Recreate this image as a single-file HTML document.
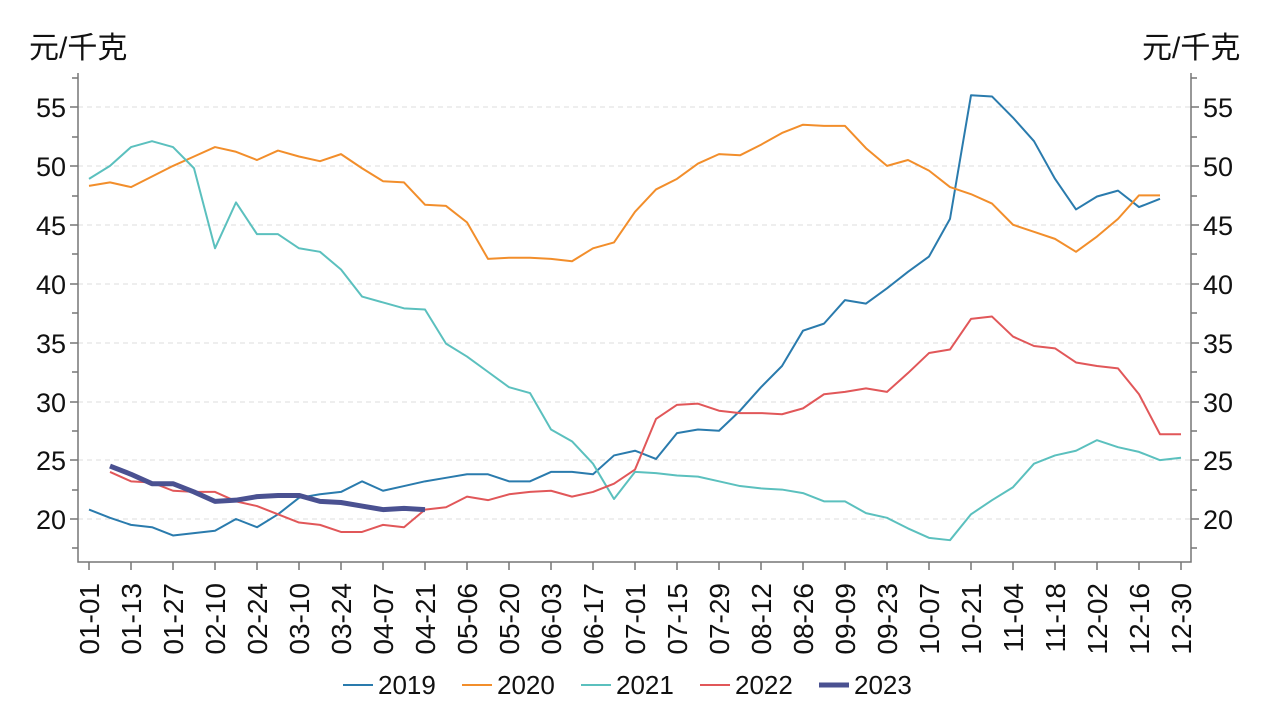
<!DOCTYPE html>
<html><head><meta charset="utf-8"><style>
body{margin:0;background:#fff}
svg{display:block;font-family:"Liberation Sans","Noto Sans CJK SC",sans-serif}
</style></head><body>
<svg width="1269" height="715" viewBox="0 0 1269 715">
<g stroke="#ddd" stroke-dasharray="5,4" stroke-width="1">
<line x1="78" x2="1191" y1="107" y2="107"/><line x1="78" x2="1191" y1="166" y2="166"/><line x1="78" x2="1191" y1="225" y2="225"/><line x1="78" x2="1191" y1="284" y2="284"/><line x1="78" x2="1191" y1="343" y2="343"/><line x1="78" x2="1191" y1="402" y2="402"/><line x1="78" x2="1191" y1="460" y2="460"/><line x1="78" x2="1191" y1="519" y2="519"/>
</g>
<g stroke="#777" stroke-width="1.5" fill="none">
<path d="M78 73V562H1191V73"/>
<path d="M70 107h8M70 166h8M70 225h8M70 284h8M70 343h8M70 402h8M70 460h8M70 519h8M72 78h6M72 137h6M72 196h6M72 254h6M72 313h6M72 372h6M72 431h6M72 490h6M72 548h6"/>
<path d="M1191 107h8M1191 166h8M1191 225h8M1191 284h8M1191 343h8M1191 402h8M1191 460h8M1191 519h8M1191 78h6M1191 137h6M1191 196h6M1191 254h6M1191 313h6M1191 372h6M1191 431h6M1191 490h6M1191 548h6"/>
<path d="M89 562v8M131 562v8M173 562v8M215 562v8M257 562v8M299 562v8M341 562v8M383 562v8M425 562v8M467 562v8M509 562v8M551 562v8M593 562v8M635 562v8M677 562v8M719 562v8M761 562v8M803 562v8M845 562v8M887 562v8M929 562v8M971 562v8M1013 562v8M1055 562v8M1097 562v8M1139 562v8M1181 562v8"/>
</g>
<g font-size="27" fill="#111" text-anchor="end">
<text x="66" y="117">55</text><text x="66" y="176">50</text><text x="66" y="235">45</text><text x="66" y="294">40</text><text x="66" y="353">35</text><text x="66" y="412">30</text><text x="66" y="470">25</text><text x="66" y="529">20</text>
</g>
<g font-size="27" fill="#111">
<text x="1203" y="117">55</text><text x="1203" y="176">50</text><text x="1203" y="235">45</text><text x="1203" y="294">40</text><text x="1203" y="353">35</text><text x="1203" y="412">30</text><text x="1203" y="470">25</text><text x="1203" y="529">20</text>
</g>
<g font-size="30" fill="#111">
<text x="29" y="58">元/千克</text><text x="1142" y="58">元/千克</text>
</g>
<g font-size="28" fill="#111" text-anchor="end">
<text transform="translate(99,583) rotate(-90)">01-01</text><text transform="translate(141,583) rotate(-90)">01-13</text><text transform="translate(183,583) rotate(-90)">01-27</text><text transform="translate(225,583) rotate(-90)">02-10</text><text transform="translate(267,583) rotate(-90)">02-24</text><text transform="translate(309,583) rotate(-90)">03-10</text><text transform="translate(351,583) rotate(-90)">03-24</text><text transform="translate(393,583) rotate(-90)">04-07</text><text transform="translate(435,583) rotate(-90)">04-21</text><text transform="translate(477,583) rotate(-90)">05-06</text><text transform="translate(519,583) rotate(-90)">05-20</text><text transform="translate(561,583) rotate(-90)">06-03</text><text transform="translate(603,583) rotate(-90)">06-17</text><text transform="translate(645,583) rotate(-90)">07-01</text><text transform="translate(687,583) rotate(-90)">07-15</text><text transform="translate(729,583) rotate(-90)">07-29</text><text transform="translate(771,583) rotate(-90)">08-12</text><text transform="translate(813,583) rotate(-90)">08-26</text><text transform="translate(855,583) rotate(-90)">09-09</text><text transform="translate(897,583) rotate(-90)">09-23</text><text transform="translate(939,583) rotate(-90)">10-07</text><text transform="translate(981,583) rotate(-90)">10-21</text><text transform="translate(1023,583) rotate(-90)">11-04</text><text transform="translate(1065,583) rotate(-90)">11-18</text><text transform="translate(1107,583) rotate(-90)">12-02</text><text transform="translate(1149,583) rotate(-90)">12-16</text><text transform="translate(1191,583) rotate(-90)">12-30</text>
</g>
<g transform="matrix(21,0,0,-11.77,89,754.4)" fill="none" stroke-linejoin="round">
<polyline vector-effect="non-scaling-stroke" stroke="#2a7bad" stroke-width="2" points="0,20.8 1,20.1 2,19.5 3,19.3 4,18.6 5,18.8 6,19.0 7,20.0 8,19.3 9,20.4 10,21.8 11,22.1 12,22.3 13,23.2 14,22.4 15,22.8 16,23.2 17,23.5 18,23.8 19,23.8 20,23.2 21,23.2 22,24.0 23,24.0 24,23.8 25,25.4 26,25.8 27,25.1 28,27.3 29,27.6 30,27.5 31,29.2 32,31.2 33,33.0 34,36.0 35,36.6 36,38.6 37,38.3 38,39.6 39,41.0 40,42.3 41,45.5 42,56.0 43,55.9 44,54.1 45,52.1 46,48.9 47,46.3 48,47.4 49,47.9 50,46.5 51,47.2"/>
<polyline vector-effect="non-scaling-stroke" stroke="#f28e2b" stroke-width="2" points="0,48.3 1,48.6 2,48.2 3,49.1 4,50.0 5,50.8 6,51.6 7,51.2 8,50.5 9,51.3 10,50.8 11,50.4 12,51.0 13,49.8 14,48.7 15,48.6 16,46.7 17,46.6 18,45.2 19,42.1 20,42.2 21,42.2 22,42.1 23,41.9 24,43.0 25,43.5 26,46.1 27,48.0 28,48.9 29,50.2 30,51.0 31,50.9 32,51.8 33,52.8 34,53.5 35,53.4 36,53.4 37,51.5 38,50.0 39,50.5 40,49.6 41,48.2 42,47.6 43,46.8 44,45.0 45,44.4 46,43.8 47,42.7 48,44.0 49,45.5 50,47.5 51,47.5"/>
<polyline vector-effect="non-scaling-stroke" stroke="#5bc0be" stroke-width="2" points="0,48.9 1,50.0 2,51.6 3,52.1 4,51.6 5,49.8 6,43.0 7,46.9 8,44.2 9,44.2 10,43.0 11,42.7 12,41.2 13,38.9 14,38.4 15,37.9 16,37.8 17,34.9 18,33.8 19,32.5 20,31.2 21,30.7 22,27.6 23,26.6 24,24.7 25,21.7 26,24.0 27,23.9 28,23.7 29,23.6 30,23.2 31,22.8 32,22.6 33,22.5 34,22.2 35,21.5 36,21.5 37,20.5 38,20.1 39,19.2 40,18.4 41,18.2 42,20.4 43,21.6 44,22.7 45,24.7 46,25.4 47,25.8 48,26.7 49,26.1 50,25.7 51,25.0 52,25.2"/>
<polyline vector-effect="non-scaling-stroke" stroke="#e15759" stroke-width="2" points="1,24.0 2,23.2 3,23.1 4,22.4 5,22.3 6,22.3 7,21.5 8,21.1 9,20.4 10,19.7 11,19.5 12,18.9 13,18.9 14,19.5 15,19.3 16,20.8 17,21.0 18,21.9 19,21.6 20,22.1 21,22.3 22,22.4 23,21.9 24,22.3 25,23.0 26,24.2 27,28.5 28,29.7 29,29.8 30,29.2 31,29.0 32,29.0 33,28.9 34,29.4 35,30.6 36,30.8 37,31.1 38,30.8 39,32.4 40,34.1 41,34.4 42,37.0 43,37.2 44,35.5 45,34.7 46,34.5 47,33.3 48,33.0 49,32.8 50,30.6 51,27.2 52,27.2"/>
<polyline vector-effect="non-scaling-stroke" stroke="#4a5191" stroke-width="5" points="1,24.5 2,23.8 3,23.0 4,23.0 5,22.3 6,21.5 7,21.6 8,21.9 9,22.0 10,22.0 11,21.5 12,21.4 13,21.1 14,20.8 15,20.9 16,20.8"/>
</g>
<g font-size="26" fill="#111">
<line x1="343" x2="373" y1="685" y2="685" stroke="#2a7bad" stroke-width="2"/><text x="378" y="694">2019</text>
<line x1="462" x2="492" y1="685" y2="685" stroke="#f28e2b" stroke-width="2"/><text x="497" y="694">2020</text>
<line x1="581" x2="611" y1="685" y2="685" stroke="#5bc0be" stroke-width="2"/><text x="616" y="694">2021</text>
<line x1="700" x2="730" y1="685" y2="685" stroke="#e15759" stroke-width="2"/><text x="735" y="694">2022</text>
<line x1="819" x2="849" y1="685" y2="685" stroke="#4a5191" stroke-width="5"/><text x="854" y="694">2023</text>
</g>
</svg>
</body></html>
